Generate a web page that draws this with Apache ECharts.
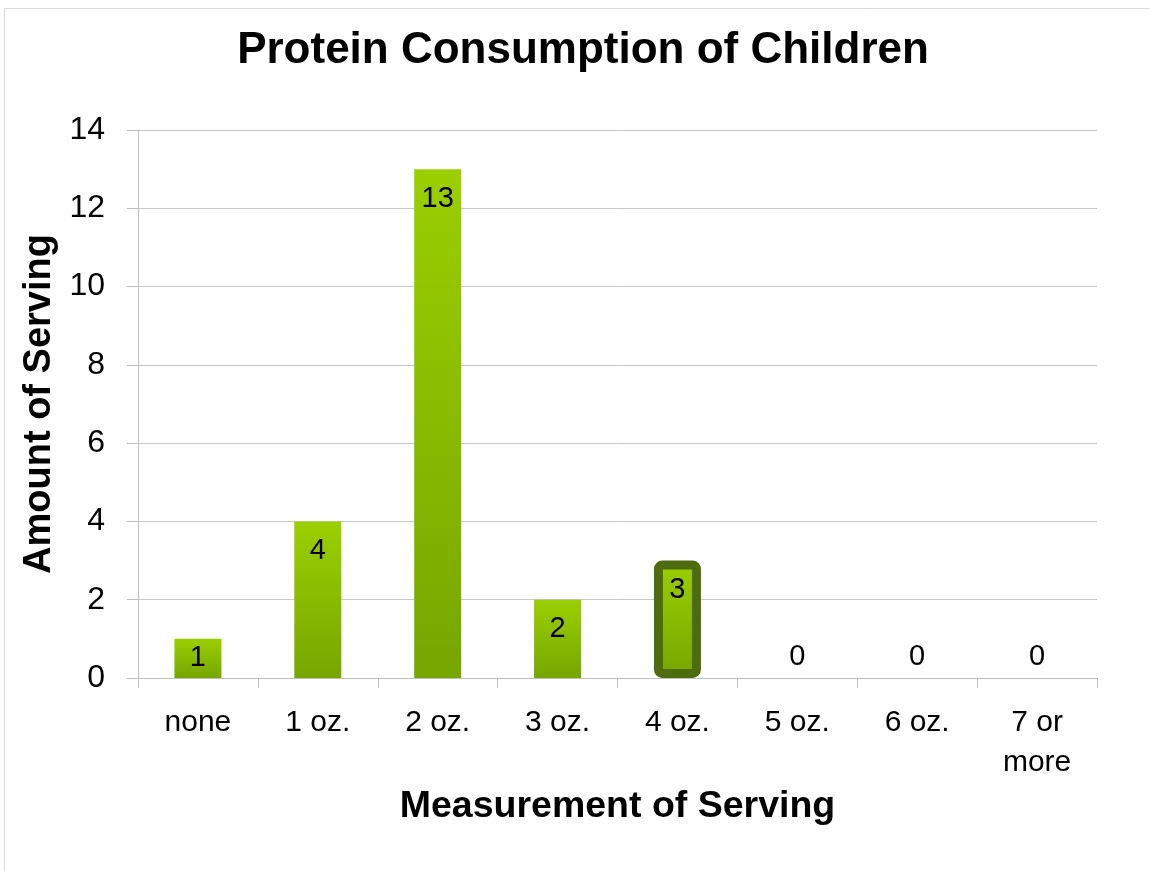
<!DOCTYPE html>
<html>
<head>
<meta charset="utf-8">
<script src="https://cdn.jsdelivr.net/npm/echarts@6/dist/echarts.min.js"></script>
<style>
html,body{margin:0;padding:0;background:#fff;}
#chart{width:1150px;height:871px;}
</style>
</head>
<body>
<div id="chart"></div>
<script>
const titleText = 'Protein Consumption of Children';
const xAxisTitle = 'Measurement of Serving';
const yAxisTitle = 'Amount of Serving';
const categories = ['none', '1 oz.', '2 oz.', '3 oz.', '4 oz.', '5 oz.', '6 oz.', '7 or\nmore'];
const servings = [1, 4, 13, 2, 3, 0, 0, 0];
const highlightedIndex = 4;
const yMin = 0, yMax = 14, yStep = 2;

const FONT = '"Liberation Sans", Arial, Helvetica, sans-serif';
const barGradient = new echarts.graphic.LinearGradient(0, 0, 0, 1, [
  { offset: 0, color: '#9bcf00' },
  { offset: 1, color: '#76a600' }
]);

const seriesData = servings.map((v, i) => {
  const item = { value: v };
  if (v === 0) {
    item.label = { position: 'top', distance: 7 };
  } else if (v === 1) {
    item.label = { position: 'inside' };
  }
  if (i === highlightedIndex) {
    item.itemStyle = { borderColor: '#4f6b10', borderWidth: 9, borderRadius: 4 };
  }
  return item;
});

const chart = echarts.init(document.getElementById('chart'), null, { renderer: 'canvas' });
chart.setOption({
  backgroundColor: '#ffffff',
  animation: false,
  textStyle: { fontFamily: FONT },
  graphic: [
    {
      type: 'rect', z: -10, silent: true,
      shape: { x: 4.5, y: 8.5, width: 1300, height: 1000 },
      style: { fill: 'none', stroke: '#d9d9d9', lineWidth: 1 }
    },
    {
      type: 'text', z: 10,
      x: 583, y: 51,
      style: {
        text: titleText,
        font: 'bold 44px ' + FONT,
        fill: '#000000',
        textAlign: 'center',
        textVerticalAlign: 'middle'
      }
    }
  ],
  grid: { left: 138, right: 53, top: 130, bottom: 193, containLabel: false },
  xAxis: {
    type: 'category',
    data: categories,
    boundaryGap: true,
    name: xAxisTitle,
    nameLocation: 'middle',
    nameGap: 127,
    nameTextStyle: { fontFamily: FONT, fontWeight: 'bold', fontSize: 37.5, color: '#000', verticalAlign: 'middle' },
    axisLine: { show: true, lineStyle: { color: '#bfbfbf', width: 1 } },
    axisTick: { show: true, length: 10, alignWithLabel: false, lineStyle: { color: '#bfbfbf' } },
    axisLabel: { fontSize: 30, color: '#000', margin: 25, lineHeight: 40, interval: 0, fontFamily: FONT }
  },
  yAxis: {
    type: 'value',
    min: yMin, max: yMax, interval: yStep,
    name: yAxisTitle,
    nameLocation: 'middle',
    nameGap: 98,
    nameTextStyle: { fontFamily: FONT, fontWeight: 'bold', fontSize: 38, color: '#000', verticalAlign: 'middle' },
    axisLine: { show: true, lineStyle: { color: '#bfbfbf', width: 1 } },
    axisTick: { show: true, length: 11, lineStyle: { color: '#bfbfbf' } },
    splitLine: { show: true, lineStyle: { color: '#c8c8c8', width: 1 } },
    axisLabel: { fontSize: 32, color: '#000', margin: 33, fontFamily: FONT }
  },
  series: [{
    type: 'bar',
    data: seriesData,
    barWidth: 47,
    itemStyle: { color: barGradient },
    label: {
      show: true,
      position: 'insideTop',
      distance: 15,
      fontSize: 29,
      color: '#000',
      fontFamily: FONT
    }
  }]
});
</script>
</body>
</html>
